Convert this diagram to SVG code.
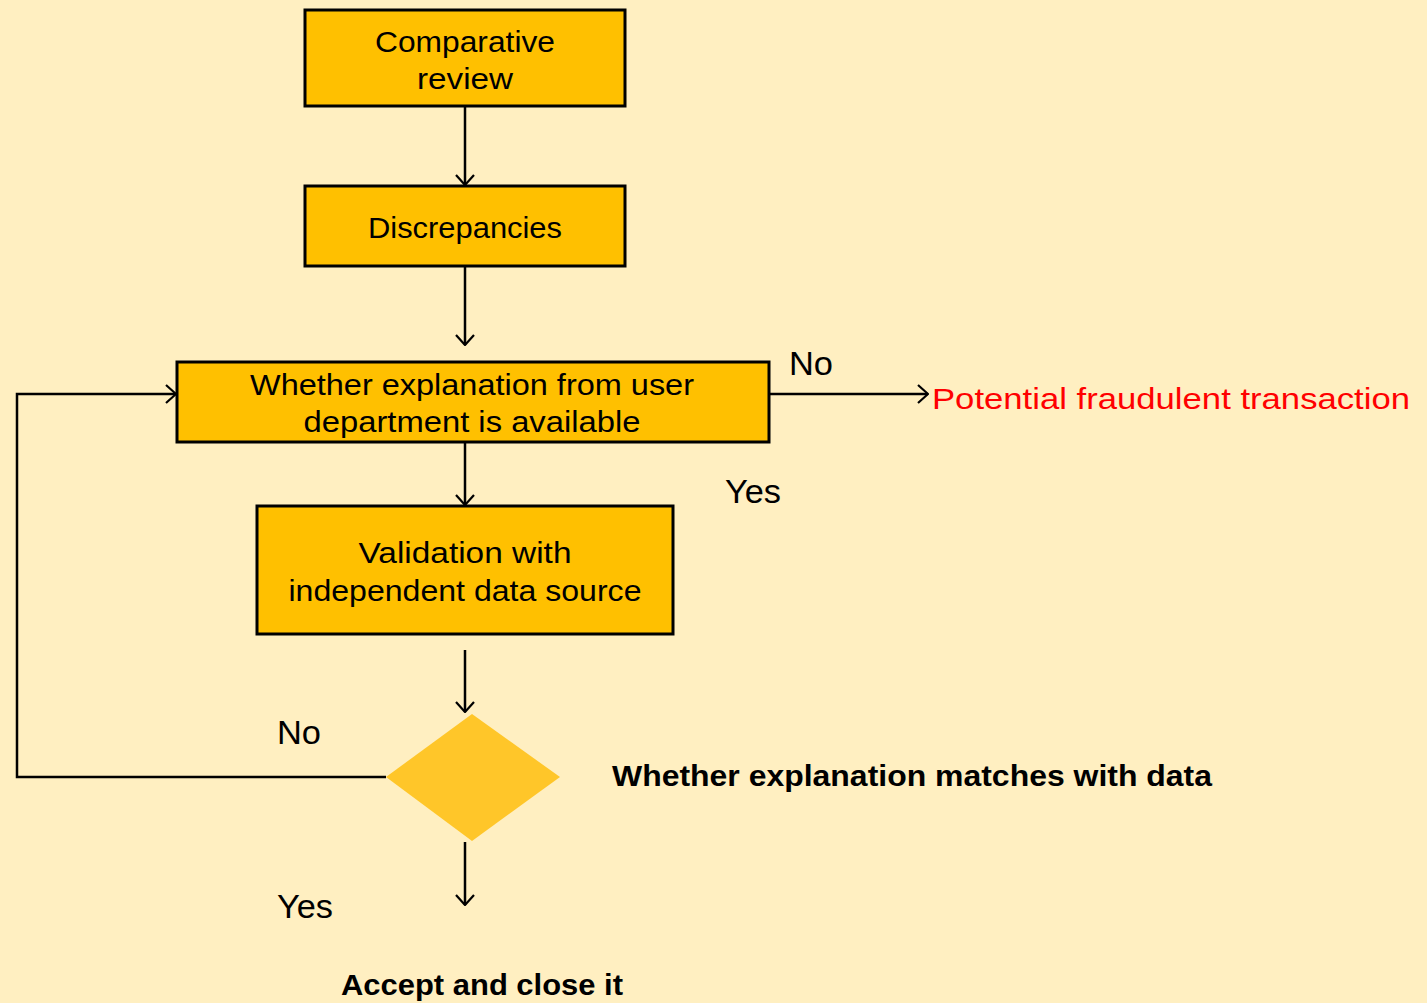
<svg xmlns="http://www.w3.org/2000/svg" width="1427" height="1003" viewBox="0 0 1427 1003">
<defs>
<marker id="arr" viewBox="0 0 12 20" refX="11" refY="10" markerWidth="12" markerHeight="20" markerUnits="userSpaceOnUse" orient="auto">
<path d="M1,1 L11,10 L1,19" fill="none" stroke="#000" stroke-width="2.2"/>
</marker>
<style>
.box{fill:#FFC000;stroke:#000;stroke-width:3}
.t{font-family:"Liberation Sans",Arial,sans-serif;font-size:29px;fill:#000;text-anchor:middle}
.lbl{font-family:"Liberation Sans",Arial,sans-serif;font-size:33px;fill:#000}
.c{fill:none;stroke:#000;stroke-width:2.5}
</style>
</defs>
<rect width="1427" height="1003" fill="#FFEFC1"/>
<g id="connectors">
<line class="c" x1="465" y1="106" x2="465" y2="185" marker-end="url(#arr)"/>
<line class="c" x1="465" y1="266" x2="465" y2="345" marker-end="url(#arr)"/>
<line class="c" x1="465" y1="442" x2="465" y2="505" marker-end="url(#arr)"/>
<line class="c" x1="465" y1="650" x2="465" y2="712" marker-end="url(#arr)"/>
<line class="c" x1="465" y1="842" x2="465" y2="905" marker-end="url(#arr)"/>
<line class="c" x1="769" y1="394" x2="928" y2="394" marker-end="url(#arr)"/>
<polyline class="c" points="386,777 17,777 17,394 176,394" marker-end="url(#arr)"/>
</g>
<g id="n1">
<rect class="box" x="305" y="10" width="320" height="96"/>
<text class="t" x="465" y="52" textLength="180" lengthAdjust="spacingAndGlyphs">Comparative</text>
<text class="t" x="465" y="89" textLength="96" lengthAdjust="spacingAndGlyphs">review</text>
</g>
<g id="n2">
<rect class="box" x="305" y="186" width="320" height="80"/>
<text class="t" x="465" y="238" textLength="194" lengthAdjust="spacingAndGlyphs">Discrepancies</text>
</g>
<g id="n3">
<rect class="box" x="177" y="362" width="592" height="80"/>
<text class="t" x="472" y="395" textLength="444" lengthAdjust="spacingAndGlyphs">Whether explanation from user</text>
<text class="t" x="472" y="432" textLength="337" lengthAdjust="spacingAndGlyphs">department is available</text>
</g>
<g id="n4">
<rect class="box" x="257" y="506" width="416" height="128"/>
<text class="t" x="465" y="563" textLength="213" lengthAdjust="spacingAndGlyphs">Validation with</text>
<text class="t" x="465" y="601" textLength="353" lengthAdjust="spacingAndGlyphs">independent data source</text>
</g>
<g id="n5">
<polygon points="472,714 560,777 472,841 386,777" fill="#FFC629"/>
</g>
<g id="labels">
<text class="lbl" x="789" y="375" textLength="44" lengthAdjust="spacingAndGlyphs">No</text>
<text class="lbl" x="932" y="409" font-size="30" fill="#FF0000" style="fill:#FF0000;font-size:30px" textLength="478" lengthAdjust="spacingAndGlyphs">Potential fraudulent transaction</text>
<text class="lbl" x="725" y="503" textLength="56" lengthAdjust="spacingAndGlyphs">Yes</text>
<text class="lbl" x="277" y="744" textLength="44" lengthAdjust="spacingAndGlyphs">No</text>
<text class="lbl" x="612" y="786" style="font-size:30px;font-weight:bold" textLength="600" lengthAdjust="spacingAndGlyphs">Whether explanation matches with data</text>
<text class="lbl" x="277" y="918" textLength="56" lengthAdjust="spacingAndGlyphs">Yes</text>
<text class="lbl" x="341" y="995" style="font-size:30px;font-weight:bold" textLength="282" lengthAdjust="spacingAndGlyphs">Accept and close it</text>
</g>
</svg>
